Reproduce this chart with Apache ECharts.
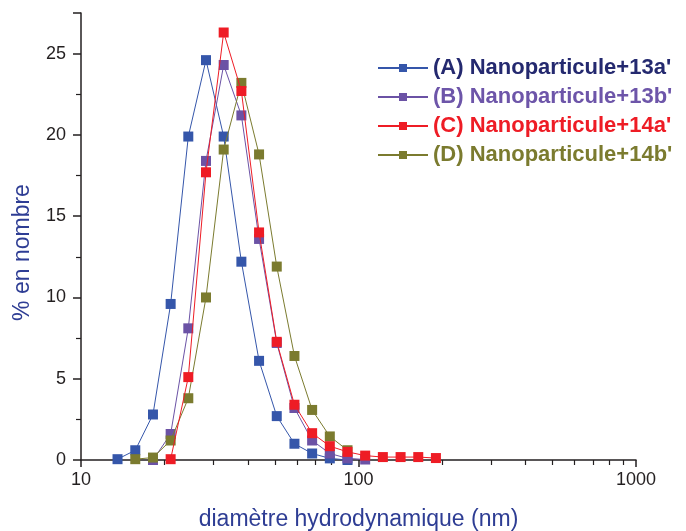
<!DOCTYPE html>
<html>
<head>
<meta charset="utf-8">
<script src="https://cdn.jsdelivr.net/npm/echarts@6/dist/echarts.min.js"></script>
<style>
  html, body { margin: 0; padding: 0; background: #fff; }
  #chart { width: 686px; height: 531px; }
</style>
</head>
<body>
<div id="chart"></div>
<script>
// size classes (nm)
const sizes = [13.54, 15.69, 18.17, 21.04, 24.36, 28.21, 32.67, 37.84, 43.82, 50.75, 58.77, 68.06, 78.82, 91.28, 105.7, 122.4, 141.8, 164.2, 190.1];

// % en nombre, null = no point
const serieA = [0.05, 0.6, 2.8, 9.6, 19.9, 24.6, 19.9, 12.2, 6.1, 2.7, 1.0, 0.4, 0.1, 0, null, null, null, null, null];
const serieB = [null, null, 0, 1.6, 8.1, 18.4, 24.3, 21.2, 13.6, 7.2, 3.2, 1.2, 0.4, 0.1, 0.03, null, null, null, null];
const serieC = [null, null, null, 0.05, 5.1, 17.7, 26.3, 22.7, 14.0, 7.27, 3.4, 1.65, 0.85, 0.5, 0.27, 0.18, 0.18, 0.18, 0.12];
const serieD = [null, 0.05, 0.15, 1.2, 3.8, 10.0, 19.1, 23.2, 18.8, 11.9, 6.4, 3.08, 1.45, 0.6, null, null, null, null, null];

const names = ["(A) Nanoparticule+13a'", "(B) Nanoparticule+13b'", "(C) Nanoparticule+14a'", "(D) Nanoparticule+14b'"];
const lineColors = ['#3556aa', '#6b52a5', '#ee1c25', '#7b7b2f'];
const textColors = ['#24296f', '#6d55a9', '#ee1c25', '#7b7b2f'];

const yTicks = [0, 5, 10, 15, 20, 25];
const xMinorTicks = [20, 30, 40, 50, 60, 70, 80, 90, 200, 300, 400, 500, 600, 700, 800, 900];

const pairs = vals => sizes.map((s, i) => vals[i] == null ? null : [s, vals[i]]).filter(p => p);

const chart = echarts.init(document.getElementById('chart'));
const font = 'Liberation Sans, Arial, sans-serif';

const mkSeries = (vals, i) => ({
  name: names[i],
  type: 'line',
  data: pairs(vals),
  symbol: 'rect',
  symbolSize: 10,
  lineStyle: { width: 1, color: lineColors[i] },
  itemStyle: { color: lineColors[i] },
  z: [1, 2, 4, 3][i],
  animation: false
});

chart.setOption({
  backgroundColor: '#fff',
  animation: false,
  grid: { left: 81, right: 50, top: 13, bottom: 71, outerBoundsMode: 'none', containLabel: false },
  legend: {
    orient: 'vertical',
    left: 372,
    top: 52,
    itemWidth: 50,
    itemHeight: 10,
    itemGap: 7,
    data: names.map((n, i) => ({ name: n, textStyle: { color: textColors[i] } })),
    textStyle: { fontFamily: font, fontWeight: 'bold', fontSize: 22 }
  },
  xAxis: [{
    type: 'log',
    logBase: 10,
    min: 10,
    max: 1000,
    name: 'diamètre hydrodynamique (nm)',
    nameLocation: 'middle',
    nameGap: 48,
    nameTextStyle: { color: '#2e3d94', fontFamily: font, fontSize: 23 },
    axisLine: { onZero: false, lineStyle: { color: '#231f20', width: 1.5 } },
    axisTick: { length: 7, lineStyle: { color: '#231f20', width: 1.5 } },
    axisLabel: { color: '#231f20', fontFamily: font, fontSize: 18, margin: 11, formatter: v => String(v) },
    splitLine: { show: false }
  }, {
    type: 'log',
    logBase: 10,
    min: 10,
    max: 1000,
    position: 'bottom',
    offset: 0,
    axisLine: { show: false },
    axisTick: { length: 5, customValues: xMinorTicks, lineStyle: { color: '#231f20', width: 1.2 } },
    axisLabel: { show: false },
    splitLine: { show: false }
  }],
  yAxis: {
    type: 'value',
    min: 0,
    max: 27.5,
    interval: 5,
    name: '% en nombre',
    nameLocation: 'middle',
    nameGap: 47,
    nameTextStyle: { color: '#2e3d94', fontFamily: font, fontSize: 23, padding: [0, 32, 0, 0] },
    axisLine: { show: true, lineStyle: { color: '#231f20', width: 1.5 } },
    axisTick: { length: 8, lineStyle: { color: '#231f20', width: 1.5 } },
    minorTick: { show: true, splitNumber: 2, length: 5, lineStyle: { color: '#231f20', width: 1.2 } },
    axisLabel: {
      color: '#231f20', fontFamily: font, fontSize: 18, margin: 15,
      formatter: v => yTicks.includes(v) ? String(v) : ''
    },
    splitLine: { show: false }
  },
  series: [mkSeries(serieA, 0), mkSeries(serieB, 1), mkSeries(serieC, 2), mkSeries(serieD, 3)]
});
</script>
</body>
</html>
